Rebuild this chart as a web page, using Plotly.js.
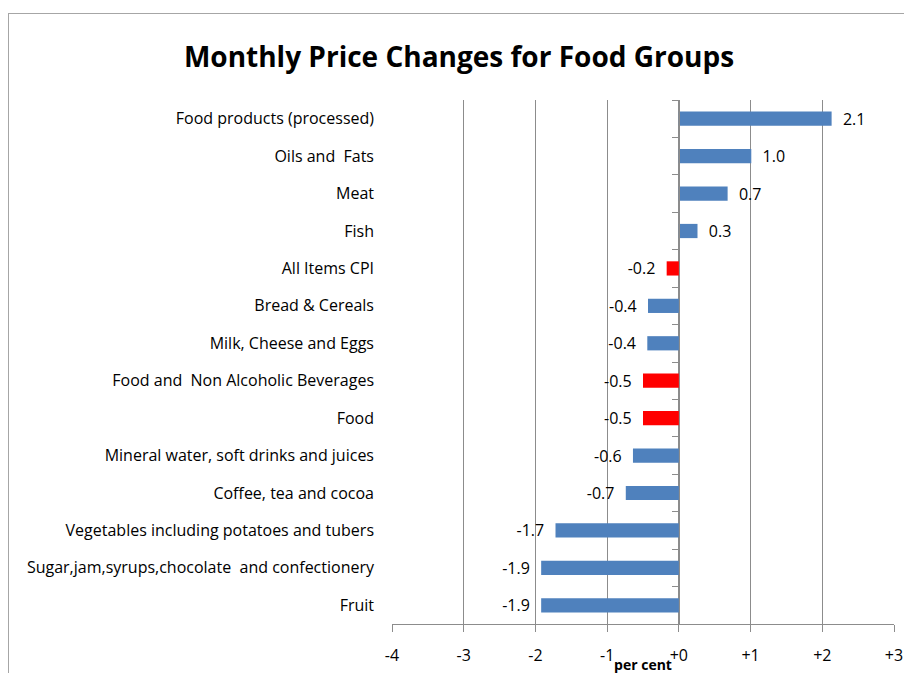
<!DOCTYPE html>
<html>
<head>
<meta charset="utf-8">
<script src="https://cdn.plot.ly/plotly-3.0.1.min.js"></script>
<style>
  html, body { margin: 0; padding: 0; background: #fff; width: 904px; height: 673px; overflow: hidden; }
  #frame { position: absolute; left: 8px; top: 13px; width: 920px; height: 700px; border: 2px solid #a6a6a6; box-sizing: border-box; }
  #chart { position: absolute; left: 9px; top: 14px; width: 900px; height: 660px; }
</style>
</head>
<body>
<div id="frame"></div>
<div id="chart"></div>
<script>
// Data (top to bottom as shown)
const categories = [
  "Food products (processed)",
  "Oils and  Fats",
  "Meat",
  "Fish",
  "All Items CPI",
  "Bread & Cereals",
  "Milk, Cheese and Eggs",
  "Food and  Non Alcoholic Beverages",
  "Food",
  "Mineral water, soft drinks and juices",
  "Coffee, tea and cocoa",
  "Vegetables including potatoes and tubers",
  "Sugar,jam,syrups,chocolate  and confectionery",
  "Fruit"
];
const values = [2.13, 1.01, 0.68, 0.26, -0.17, -0.43, -0.44, -0.50, -0.50, -0.64, -0.74, -1.72, -1.92, -1.92];
const highlighted = ["All Items CPI", "Food and  Non Alcoholic Beverages", "Food"];
const xTickVals = [-4, -3, -2, -1, 0, 1, 2, 3];
const xTickText = ["-4", "-3", "-2", "-1", "+0", "+1", "+2", "+3"];

const BLUE = "#4f81bd", RED = "#ff0000", GRID = "#8c8c8c";
const NB = "\u00a0";

const colors = categories.map(c => highlighted.includes(c) ? RED : BLUE);
const templates = values.map(v => v >= 0 ? NB + NB + "%{x:.1f}" : "%{x:.1f}" + NB + NB);

const xRange = [-4, 3];
const xDomain = [0, 1];
const zeroPos = xDomain[0] + (0 - xRange[0]) / (xRange[1] - xRange[0]) * (xDomain[1] - xDomain[0]);

const font = "'Open Sans', 'Noto Sans', sans-serif";

const traces = [
  {
    type: "bar",
    orientation: "h",
    x: values,
    y: categories,
    marker: { color: colors },
    texttemplate: templates,
    textposition: "outside",
    constraintext: "none",
    cliponaxis: false,
    textfont: { family: font, size: 16, color: "#000" },
    hoverinfo: "skip"
  },
  {
    type: "scatter",
    mode: "none",
    x: values,
    y: categories,
    yaxis: "y2",
    showlegend: false,
    hoverinfo: "skip"
  }
];

const layout = {
  width: 900,
  height: 660,
  margin: { l: 383, r: 15, t: 86, b: 50 },
  paper_bgcolor: "#fff",
  plot_bgcolor: "#fff",
  showlegend: false,
  bargap: 0.62,
  font: { family: font, color: "#000" },
  title: {
    text: "<b>Monthly Price Changes for Food Groups</b>",
    font: { family: font, size: 28, color: "#000" },
    x: 0.5, xref: "container", xanchor: "center",
    y: 1 - 43 / 660, yref: "container", yanchor: "middle"
  },
  xaxis: {
    range: xRange,
    domain: xDomain,
    tickvals: xTickVals,
    ticktext: xTickText,
    showgrid: true,
    gridcolor: GRID,
    gridwidth: 1,
    zeroline: false,
    showline: true,
    linecolor: GRID,
    linewidth: 1,
    ticks: "outside",
    ticklen: 7,
    tickcolor: GRID,
    ticklabelstandoff: 10,
    tickfont: { family: font, size: 16, color: "#000" },
    title: { text: "<b>per cent</b>", font: { family: font, size: 14, color: "#000" }, standoff: 0 },
    fixedrange: true
  },
  yaxis: {
    type: "category",
    categoryorder: "array",
    categoryarray: categories.slice().reverse(),
    autorange: false,
    range: [-0.5, categories.length - 0.5],
    showgrid: false,
    zeroline: false,
    showline: false,
    ticks: "",
    ticklabelstandoff: 17,
    tickfont: { family: font, size: 16, color: "#000" },
    fixedrange: true
  },
  yaxis2: {
    type: "category",
    overlaying: "y",
    matches: "y",
    anchor: "free",
    position: zeroPos,
    side: "left",
    showline: true,
    linecolor: GRID,
    linewidth: 1,
    ticks: "outside",
    tickson: "boundaries",
    ticklen: 7,
    tickcolor: GRID,
    showticklabels: false,
    showgrid: false,
    zeroline: false,
    fixedrange: true
  }
};

Plotly.newPlot("chart", traces, layout, { displayModeBar: false, staticPlot: true });
</script>
</body>
</html>
